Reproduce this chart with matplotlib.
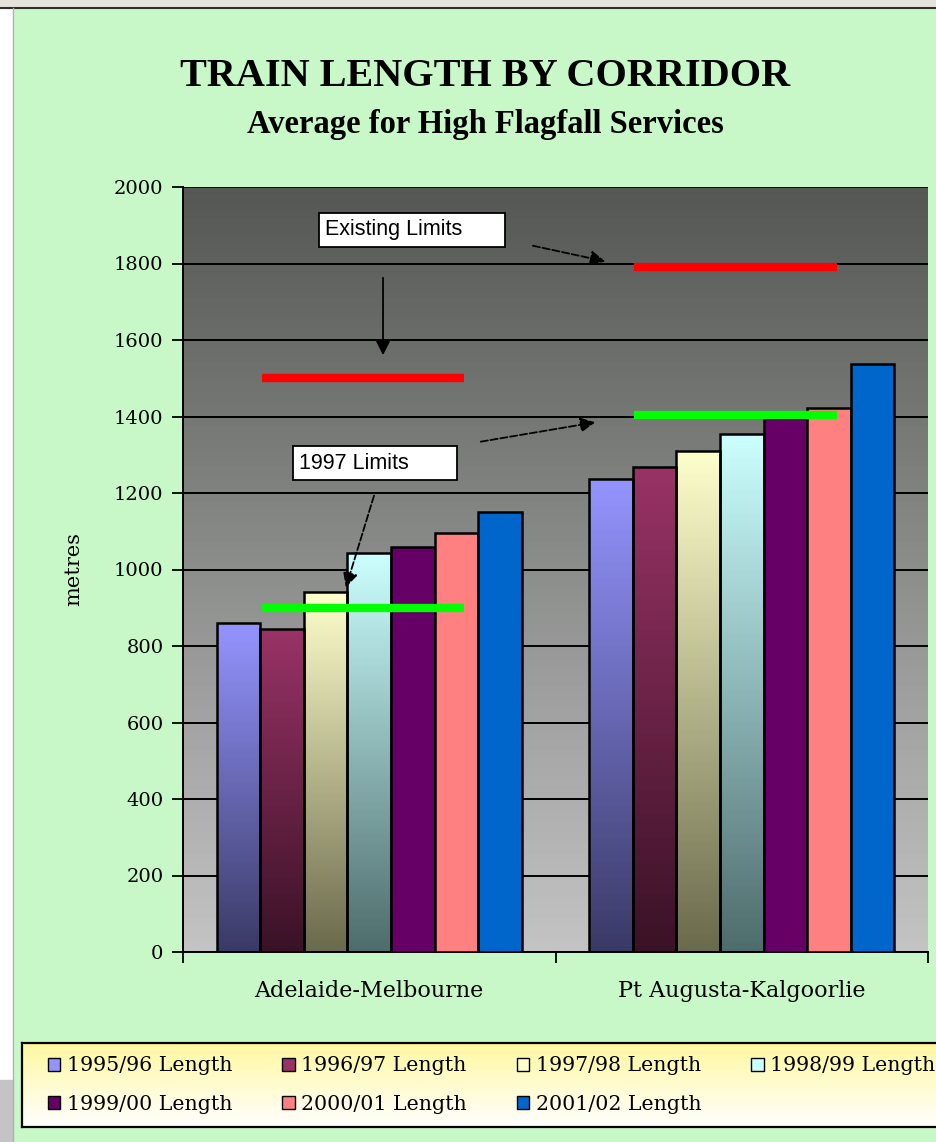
import matplotlib
matplotlib.use('Agg')
import matplotlib.pyplot as plt
import numpy as np
from matplotlib.colors import to_rgb
from matplotlib.patches import Patch, Rectangle

corridors = ['Adelaide-Melbourne', 'Pt Augusta-Kalgoorlie']
series = ['1995/96 Length', '1996/97 Length', '1997/98 Length', '1998/99 Length',
          '1999/00 Length', '2000/01 Length', '2001/02 Length']
lengths = [
    [860, 1237],
    [845, 1268],
    [940, 1310],
    [1043, 1354],
    [1059, 1396],
    [1095, 1422],
    [1150, 1537],
]
existing_limits = [1500, 1790]
limits_1997 = [900, 1405]

# top colour, bottom colour (None = solid)
bar_colors = [
    ('#9494FF', '#3A3A66'),
    ('#993366', '#3A1226'),
    ('#FFFFCC', '#6A6A4C'),
    ('#CCFFFF', '#4E6C6C'),
    ('#660066', None),
    ('#FF8080', None),
    ('#0066CC', None),
]

BG = '#C8F8C8'
SERIF = 'DejaVu Serif'

fig = plt.figure(figsize=(9.36, 11.42), dpi=100)
fig.patch.set_facecolor(BG)

# spreadsheet bits around the chart
fig.add_artist(Rectangle((0, 0), 13 / 936, 1, transform=fig.transFigure, color='white', zorder=0))
fig.add_artist(Rectangle((0, 0), 13 / 936, 62 / 1142, transform=fig.transFigure, color='#C4C4C4', zorder=0))
fig.add_artist(Rectangle((0, 1 - 8 / 1142), 1, 8 / 1142, transform=fig.transFigure, color='#E4E4DC', zorder=0))
fig.add_artist(plt.Line2D([0, 1], [1 - 8 / 1142] * 2, transform=fig.transFigure, color='#303030', lw=1.5))
fig.add_artist(plt.Line2D([13 / 936] * 2, [0, 1 - 8 / 1142], transform=fig.transFigure, color='#B0B0B0', lw=1))


def vgrad(top, bottom, n=256):
    t = np.linspace(0, 1, n)[:, None]
    a, b = np.array(to_rgb(top)), np.array(to_rgb(bottom))
    return (a * (1 - t) + b * t)[:, None, :]


ax = fig.add_axes([183 / 936, 1 - 952 / 1142, 745 / 936, 765 / 1142])
ax.set_xlim(-0.5, 1.5)
ax.set_ylim(0, 2000)

# plot area gradient
ax.imshow(vgrad('#545754', '#C4C4C4'), extent=(-0.5, 1.5, 0, 2000), aspect='auto', zorder=-2)

ax.set_yticks(np.arange(0, 2001, 200))
ax.yaxis.grid(True, color='black', lw=1.4)
ax.set_axisbelow(True)

x = np.arange(len(corridors))
n = len(series)
width = 0.82 / n
for i, (vals, (c_top, c_bot)) in enumerate(zip(lengths, bar_colors)):
    pos = x - 0.41 + width * (i + 0.5)
    if c_bot is None:
        ax.bar(pos, vals, width, color=c_top, edgecolor='black', lw=1.8, zorder=3)
    else:
        bars = ax.bar(pos, vals, width, facecolor='none', edgecolor='black', lw=1.8, zorder=3)
        for b in bars:
            im = ax.imshow(vgrad(c_top, c_bot), extent=(b.get_x(), b.get_x() + b.get_width(), 0, b.get_height()),
                           aspect='auto', zorder=2.5)
            im.set_clip_path(b)

# limit lines
for xc, v in zip(x, existing_limits):
    ax.plot([xc - 0.288, xc + 0.255], [v, v], color='#FF0000', lw=6, solid_capstyle='butt', zorder=4)
for xc, v in zip(x, limits_1997):
    ax.plot([xc - 0.288, xc + 0.255], [v, v], color='#00FF00', lw=6, solid_capstyle='butt', zorder=4)

ax.set_xlim(-0.5, 1.5)
ax.set_ylim(0, 2000)

# annotations
box = dict(boxstyle='square,pad=0.3', fc='white', ec='black', lw=1.3)
ax.text(-0.118, 1888, 'Existing Limits      ', fontsize=15.5, family='Liberation Sans', va='center', ha='left',
        bbox=box, zorder=6)
ax.text(-0.188, 1278, '1997 Limits       ', fontsize=15.5, family='Liberation Sans', va='center', ha='left',
        bbox=box, zorder=6)
arr = dict(arrowstyle='-|>,head_length=0.9,head_width=0.45', color='black', lw=1.3)
arr_d = dict(arr, ls=(0, (4, 1.5)))
ax.annotate('', xy=(0.037, 1553), xytext=(0.037, 1770), arrowprops=arr, zorder=6)
ax.annotate('', xy=(0.641, 1804), xytext=(0.432, 1848), arrowprops=arr_d, zorder=6)
ax.annotate('', xy=(-0.065, 946), xytext=(0.015, 1200), arrowprops=arr_d, zorder=6)
ax.annotate('', xy=(0.614, 1386), xytext=(0.292, 1333), arrowprops=arr_d, zorder=6)

# axes styling
for s in ['top', 'right']:
    ax.spines[s].set_visible(False)
for s in ['left', 'bottom']:
    ax.spines[s].set_color('black')
    ax.spines[s].set_linewidth(1.4)
ax.set_xticks([-0.5, 0.5, 1.5])
ax.set_xticklabels([])
ax.set_xticks(x, minor=True)
ax.set_xticklabels(corridors, minor=True, fontsize=16, family=SERIF)
ax.tick_params(axis='x', which='minor', length=0, pad=20)
ax.tick_params(axis='x', which='major', length=8, width=1.3, direction='out')
ax.tick_params(axis='y', length=8, width=1.3, direction='out', labelsize=14, pad=6)
for lab in ax.get_yticklabels():
    lab.set_family(SERIF)
ax.set_ylabel('metres', fontsize=15, family=SERIF, labelpad=22)

# titles
fig.text(485 / 936, 1 - 76 / 1142, 'TRAIN LENGTH BY CORRIDOR', ha='center', va='center',
         fontsize=29, fontweight='bold', family='Liberation Serif')
fig.text(485 / 936, 1 - 125 / 1142, 'Average for High Flagfall Services', ha='center', va='center',
         fontsize=23.5, fontweight='bold', family='Liberation Serif')

# legend panel
lax = fig.add_axes([22 / 936, 15 / 1142, 930 / 936, 84 / 1142])
lax.imshow(vgrad('#FFF8A0', '#FFFFFF'), extent=(0, 1, 0, 1), aspect='auto')
lax.set_xlim(0, 1)
lax.set_ylim(0, 1)
lax.set_xticks([])
lax.set_yticks([])
for s in lax.spines.values():
    s.set_linewidth(1.6)
    s.set_color('black')
handles = [Patch(facecolor=c_top, edgecolor='black', lw=1, label=s)
           for s, (c_top, c_bot) in zip(series, bar_colors)]
order = [0, 4, 1, 5, 2, 6, 3]
lax.legend([handles[i] for i in order], [series[i] for i in order], ncol=4, loc='upper left',
           bbox_to_anchor=(0.028, 0.84), frameon=False, prop={'family': SERIF, 'size': 14.8},
           handlelength=0.6, handleheight=0.6, handletextpad=0.3, columnspacing=2.45, labelspacing=0.95,
           borderpad=0, borderaxespad=0)

fig.savefig('out.png', dpi=100, facecolor=fig.get_facecolor())
